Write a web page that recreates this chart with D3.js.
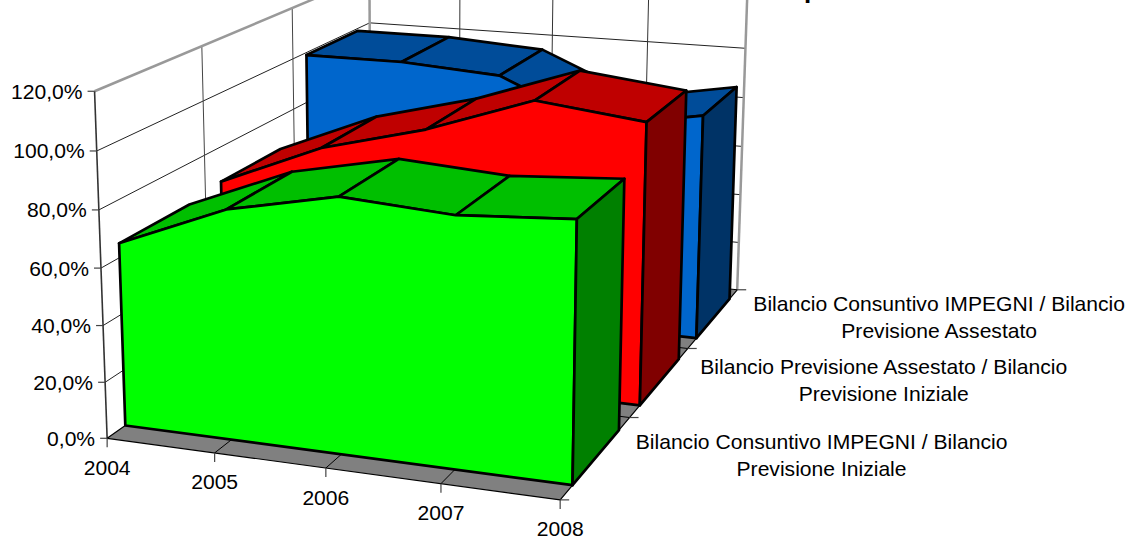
<!DOCTYPE html>
<html><head><meta charset="utf-8">
<script src="https://cdn.jsdelivr.net/npm/d3@7/dist/d3.min.js"></script>
<style>html,body{margin:0;padding:0;background:#fff}svg{display:block}text{font-family:"Liberation Sans",Arial,sans-serif;fill:#000}</style>
</head><body><svg id="c" width="1131" height="538"></svg>
<script>
const years = ["2004","2005","2006","2007","2008"];
const seriesLabels = [
  ["Bilancio Consuntivo IMPEGNI / Bilancio","Previsione Iniziale"],
  ["Bilancio Previsione Assestato / Bilancio","Previsione Iniziale"],
  ["Bilancio Consuntivo IMPEGNI / Bilancio","Previsione Assestato"]
];
const seriesIds = ["green","red","blue"];
const greenValues = [0.65,0.805,0.885,0.86,0.885];
const redValues   = [0.67,0.83,0.93,1.065,1.02];
const blueValues  = [0.99,0.99,0.965,0.80,0.87];
const yTicks = [0,0.2,0.4,0.6,0.8,1.0,1.2];
const frontColors = ["#00FF00","#FF0000","#0066CC"];
const topColors   = ["#00BF00","#BF0000","#004C99"];
const sideColors  = ["#008000","#800000","#003366"];
const labelOffsets = [[192,31],[196,26],[202,21]];

// pixel anchors of the plot box: [u,v,w,x,y]; fitted to one perspective camera
const anchors = [
 [0,0,0,107,438],[0,0,0,107,438],[0,0,0,107,438],[1,0,0,560,500],[1,0,0,560,500],[1,0,0,560,500],[0,1,0,94,91],[0,1,0,94,91],[1,0,1,738,290],[1,0,1,738,290],[1,1,1,748,-0.5],
 [0,5/6,1,369,23],[1,5/6,1,745,48],[1,0,1/3,630,417.7],[1,0,2/3,688,349],
 [0,5/6,0,96,151],[0,4/6,0,100,210],[0,3/6,0,101,268],[0,2/6,0,103,326],[0,1/6,0,105,382.5],
 [1,4/6,1,743,97],[1,3/6,1,742,146],[1,2/6,1,740,194],[1,1/6,1,737,243],
 [.25,0,0,215,453],[.5,0,0,326,468],[.75,0,0,441,483],[0,1,1/3,203,47],[0,1,2/3,292,8],
 [.25,5/6,1,460,29],[.5,5/6,1,553,35],[.75,5/6,1,648,41]
];
function solve(A,b){const n=b.length;const M=A.map((r,i)=>[...r,b[i]]);
 for(let i=0;i<n;i++){let p=i;for(let k=i+1;k<n;k++)if(Math.abs(M[k][i])>Math.abs(M[p][i]))p=k;[M[i],M[p]]=[M[p],M[i]];
  for(let k=i+1;k<n;k++){const f=M[k][i]/M[i][i];for(let j=i;j<=n;j++)M[k][j]-=f*M[i][j];}}
 const x=Array(n).fill(0);for(let i=n-1;i>=0;i--){let s=M[i][n];for(let j=i+1;j<n;j++)s-=M[i][j]*x[j];x[i]=s/M[i][i];}return x;}
function fitCamera(){const rows=[],rhs=[];
 anchors.forEach(([u,v,w,x,y])=>{rows.push([u,v,w,1,0,0,0,0,-x*u,-x*v,-x*w]);rhs.push(x);rows.push([0,0,0,0,u,v,w,1,-y*u,-y*v,-y*w]);rhs.push(y);});
 const n=11,AtA=d3.range(n).map(()=>Array(n).fill(0)),Atb=Array(n).fill(0);
 rows.forEach((r,k)=>{for(let i=0;i<n;i++){Atb[i]+=r[i]*rhs[k];for(let j=0;j<n;j++)AtA[i][j]+=r[i]*r[j];}});
 return solve(AtA,Atb);}
const H=fitCamera();
function cam(u,v,w){const d=H[8]*u+H[9]*v+H[10]*w+1;return [(H[0]*u+H[1]*v+H[2]*w+H[3])/d,(H[4]*u+H[5]*v+H[6]*w+H[7])/d];}

const xScale=d3.scalePoint().domain(years).range([0,1]);
const yScale=d3.scaleLinear().domain([0,1.2]).range([0,1]);
const zScale=d3.scaleBand().domain(seriesIds).range([0,1]).paddingInner(0.33).paddingOuter(0.165);
const fmt=d3.formatLocale({decimal:",",thousands:".",grouping:[3],currency:["","€"]}).format(".1%");
const poly=d3.line();
const svg=d3.select("#c");
const G=svg.append("g");
const FS=21.1;
function seg(a,b,stroke,w){G.append("line").attr("x1",a[0]).attr("y1",a[1]).attr("x2",b[0]).attr("y2",b[1]).attr("stroke",stroke).attr("stroke-width",w);}
function face(pts,fill,w){G.append("path").attr("d",poly(pts)+"Z").attr("fill",fill).attr("stroke","#000").attr("stroke-width",w).attr("stroke-linejoin","round");}

// wall grid
yTicks.slice(1,-1).forEach(t=>{const v=yScale(t);seg(cam(0,v,0),cam(0,v,1),"#222",1);seg(cam(0,v,1),cam(1,v,1),"#222",1);});
years.slice(1,-1).forEach(y=>{const u=xScale(y);seg(cam(u,0,1),cam(u,1,1),"#333",1);});
[1/3,2/3].forEach(w=>seg(cam(0,0,w),cam(0,1,w),"#444",1));
// wall edges
seg(cam(0,0,1),cam(0,1,1),"#999",2.5);
seg(cam(0,1,0),cam(0,1,1),"#999",2.5);
seg(cam(0,1,1),cam(1,1,1),"#999",2.5);
seg(cam(1,0,1),cam(1,1,1),"#999",2.5);
seg(cam(0,0,0),cam(0,1,0),"#333",1.6);
// floor
face([cam(0,0,0),cam(1,0,0),cam(1,0,1),cam(0,0,1)],"#808080",1.2);
years.slice(1,-1).forEach(y=>{const u=xScale(y);seg(cam(u,0,0),cam(u,0,1),"#000",1);});
[1/3,2/3].forEach(w=>seg(cam(0,0,w),cam(1,0,w),"#000",1));
// ticks
yTicks.forEach(t=>{const p=cam(0,yScale(t),0);seg([p[0]-7,p[1]],p,"#444",1.2);
 G.append("text").attr("x",p[0]-12).attr("y",p[1]+7.5).attr("text-anchor","end").attr("font-size",FS).text(fmt(t));});
years.forEach(y=>{const p=cam(xScale(y),0,0);seg(p,[p[0],p[1]+9],"#444",1.2);
 G.append("text").attr("x",p[0]).attr("y",p[1]+36.5).attr("text-anchor","middle").attr("font-size",FS).text(y);});
[0,1/3,2/3,1].forEach(w=>{const p=cam(1,0,w);seg(p,[p[0]+9,p[1]],"#444",1.2);});
// series, back to front
const seriesValues=[greenValues,redValues,blueValues];
[2,1,0].forEach(i=>{
 const id=seriesIds[i],vals=seriesValues[i],zf=zScale(id),zb=zf+zScale.bandwidth();
 const us=years.map(y=>xScale(y)),vs=vals.map(v=>yScale(v));
 for(let k=0;k<us.length-1;k++)face([cam(us[k],vs[k],zf),cam(us[k+1],vs[k+1],zf),cam(us[k+1],vs[k+1],zb),cam(us[k],vs[k],zb)],topColors[i],2.7);
 const top=us.map((u,k)=>cam(u,vs[k],zf));
 face([cam(0,0,zf),...top,cam(1,0,zf)],frontColors[i],2.7);
 face([cam(1,0,zf),cam(1,vs[4],zf),cam(1,vs[4],zb),cam(1,0,zb)],sideColors[i],2.7);
});
// series labels
seriesLabels.forEach((ls,i)=>{const p=cam(1,0,(i+1)/3),o=labelOffsets[i];
 ls.forEach((l,j)=>G.append("text").attr("x",p[0]+o[0]).attr("y",p[1]+o[1]+j*27).attr("text-anchor","middle").attr("font-size",FS).text(l));});
// clipped title remnant
G.append("text").attr("x",804).attr("y",-2).attr("font-size",26).attr("font-weight","bold").text("p");
</script></body></html>
